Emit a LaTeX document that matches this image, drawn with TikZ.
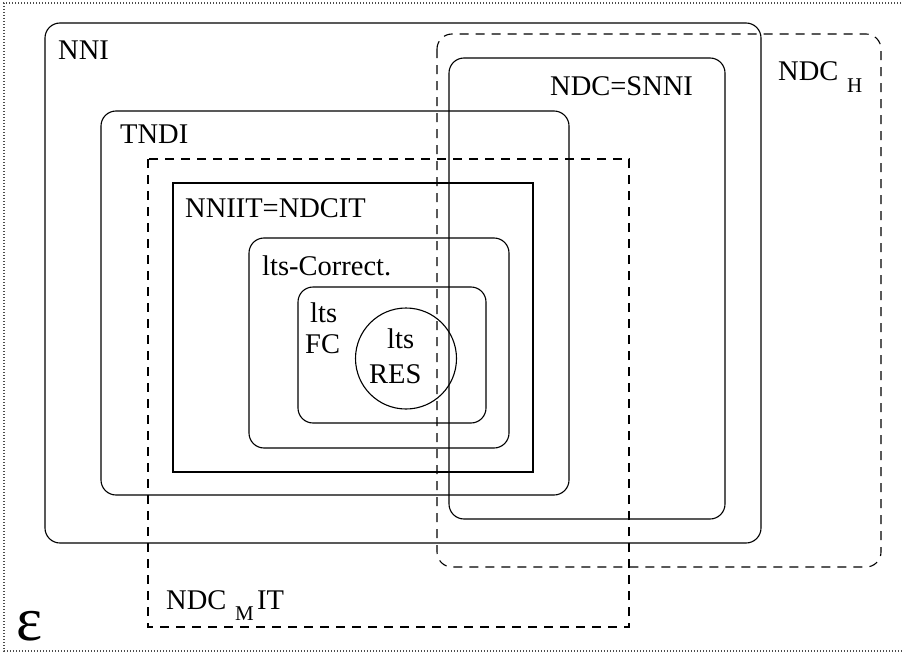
\documentclass[tikz,border=0pt]{standalone}
\usepackage{fontspec}
\setmainfont{Liberation Serif}
\begin{document}
\begin{tikzpicture}[x=1pt,y=-1pt,
  setline/.style={line width=1.1pt, draw=black},
  rset/.style={setline, rounded corners=15pt},
  dset/.style={setline, dash pattern=on 9pt off 7pt},
  lbl/.style={anchor=base west, inner sep=0pt, font=\fontsize{28.5}{34}\selectfont},
  sub/.style={anchor=base west, inner sep=0pt, font=\fontsize{21}{25}\selectfont}]
\useasboundingbox (0,0) rectangle (903,653);
% universe border (dotted)
\draw[line width=1.1pt, draw=black!70, dash pattern=on 1.2pt off 1.8pt] (910,3) -- (4,3) -- (4,651) -- (910,651);
% sets
\draw[rset] (45,23) rectangle (761,543);
\draw[rset] (101,111) rectangle (569,495);
\draw[rset] (449,58) rectangle (725,519);
\draw[dset, rounded corners=15pt] (437,34) rectangle (881,567);
\draw[dset] (148,159) rectangle (629,627);
\draw[setline] (173,183) rectangle (533,472);
\draw[rset] (249,238) rectangle (509,448);
\draw[rset] (298,287) rectangle (486,423);
\draw[setline] (406,358.5) circle (50.5);
% labels
\node[lbl] (nni) at (58,59) {NNI};
\node[lbl] (tndi) at (120,143) {TNDI};
\node[lbl] (nniit) at (185,217) {NNIIT=NDCIT};
\node[lbl] (ltscor) at (262,275) {lts-Correct.};
\node[lbl] (ltsfc1) at (310,322) {lts};
\node[lbl] (ltsfc2) at (305,353) {FC};
\node[lbl] (ltsres1) at (387,348) {lts};
\node[lbl] (ltsres2) at (369,383) {RES};
\node[lbl] (ndcsnni) at (550,95) {NDC=SNNI};
\node[lbl] (ndch) at (778,80) {NDC};
\node[sub] (ndchsub) at (847,92) {H};
\node[lbl] (ndcm) at (166,609) {NDC};
\node[sub] (ndcmsub) at (235,620) {M};
\node[lbl] (ndcmit) at (257,609) {IT};
\node[anchor=base west, inner sep=0pt, font=\fontsize{62}{66}\selectfont] (eps) at (16,640) {ε};
\end{tikzpicture}
\end{document}
